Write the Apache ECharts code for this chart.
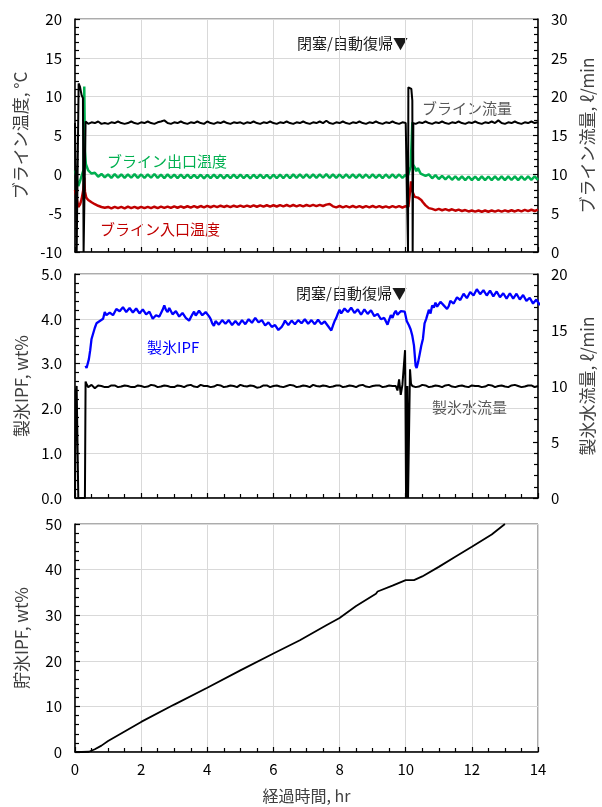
<!DOCTYPE html>
<html><head><meta charset="utf-8">
<script src="https://cdn.jsdelivr.net/npm/echarts@6/dist/echarts.min.js"></script>
<style>html,body{margin:0;padding:0;background:#fff}#c{width:602px;height:807px}</style>
</head><body><div id="c"></div>
<script>
// ---- Data (time in hr) ----
const xTicks = [0, 2, 4, 6, 8, 10, 12, 14];

// Panel 1: brine flow (right axis, ℓ/min)
const brineFlow = [[0,16.6],[0.04,16.5],[0.05,0],[0.09,0],[0.11,21.7],[0.15,21.3],[0.2,20.2],[0.24,19.8],[0.26,0],[0.3,0],[0.32,16.8],[0.4,16.5],[0.5,16.7],[0.6,16.6],[0.7,16.8],[0.8,16.5],[0.9,16.6],[1.0,16.5],[1.1,16.7],[1.2,16.6],[1.3,16.8],[1.4,16.6],[1.5,16.5],[1.6,16.6],[1.7,16.8],[1.8,16.6],[1.9,16.5],[2.0,16.7],[2.1,16.6],[2.2,16.8],[2.3,16.6],[2.4,16.5],[2.5,16.7],[2.6,16.8],[2.7,16.95],[2.8,16.6],[2.9,16.5],[3.0,16.7],[3.1,16.6],[3.2,16.8],[3.3,16.6],[3.4,16.5],[3.5,16.7],[3.6,16.6],[3.7,16.8],[3.8,16.6],[3.9,16.5],[4.0,16.8],[4.1,16.6],[4.2,16.5],[4.3,16.7],[4.4,16.6],[4.5,16.8],[4.6,16.6],[4.7,16.5],[4.8,16.7],[4.9,16.6],[5.0,16.7],[5.1,16.5],[5.2,16.7],[5.3,16.6],[5.4,16.8],[5.5,16.6],[5.6,16.5],[5.7,16.7],[5.8,16.6],[5.9,16.8],[6.0,16.6],[6.1,16.5],[6.2,16.7],[6.3,16.6],[6.4,16.8],[6.5,16.6],[6.6,16.5],[6.7,16.7],[6.8,16.6],[6.9,16.8],[7.0,16.6],[7.1,16.5],[7.2,16.7],[7.3,16.6],[7.4,16.8],[7.5,16.6],[7.6,16.9],[7.7,16.6],[7.8,16.5],[7.9,16.7],[8.0,16.6],[8.1,16.8],[8.2,16.6],[8.3,16.5],[8.4,16.7],[8.5,16.6],[8.6,16.8],[8.7,16.6],[8.8,16.5],[8.9,16.7],[9.0,16.6],[9.1,16.8],[9.2,16.6],[9.3,16.5],[9.4,16.7],[9.5,16.6],[9.6,16.8],[9.7,16.6],[9.8,16.5],[9.9,16.7],[10.0,16.6],[10.06,16.6],[10.07,0],[10.075,0],[10.08,21.2],[10.12,21.3],[10.17,21.0],[10.2,19.5],[10.21,0],[10.22,0],[10.23,16.6],[10.3,16.5],[10.4,16.7],[10.5,16.6],[10.6,16.8],[10.7,16.6],[10.8,16.5],[10.9,16.7],[11.0,16.6],[11.1,16.8],[11.2,16.6],[11.3,16.5],[11.4,16.7],[11.5,16.6],[11.6,16.8],[11.7,16.6],[11.8,16.5],[11.9,16.7],[12.0,16.6],[12.1,16.8],[12.2,16.6],[12.3,16.5],[12.4,16.7],[12.5,16.6],[12.6,16.8],[12.7,16.6],[12.8,16.95],[12.9,16.6],[13.0,16.5],[13.1,16.7],[13.2,16.6],[13.3,16.8],[13.4,16.6],[13.5,16.5],[13.6,16.7],[13.7,16.6],[13.8,16.8],[13.9,16.6],[14.0,16.7]];

// Panel 1: brine outlet temperature (°C)
const brineOut = [[0,0.5],[0.05,-0.4],[0.1,-1.5],[0.15,-0.9],[0.2,-0.2],[0.26,0.6],[0.28,11.3],[0.3,3.0],[0.33,1.3],[0.4,0.5],[0.5,0.1],[0.6,0.2],[0.7,-0.3],[0.8,0.05],[0.9,-0.4],[1.0,0.0],[1.1,-0.45],[1.2,0.02],[1.3,-0.42],[1.4,-0.02],[1.5,-0.46],[1.6,0.0],[1.7,-0.44],[1.8,0.03],[1.9,-0.45],[2.0,-0.02],[2.1,-0.47],[2.2,0.0],[2.3,-0.44],[2.4,0.05],[2.5,-0.45],[2.6,-0.03],[2.7,-0.48],[2.8,0.0],[2.9,-0.46],[3.0,-0.04],[3.1,-0.5],[3.2,-0.05],[3.3,-0.48],[3.4,-0.04],[3.5,-0.5],[3.6,-0.06],[3.7,-0.5],[3.8,-0.05],[3.9,-0.52],[4.0,-0.06],[4.1,-0.5],[4.2,-0.04],[4.3,-0.5],[4.4,-0.05],[4.5,-0.52],[4.6,-0.06],[4.7,-0.5],[4.8,-0.05],[4.9,-0.5],[5.0,-0.04],[5.1,-0.5],[5.2,-0.06],[5.3,-0.52],[5.4,-0.05],[5.5,-0.5],[5.6,-0.04],[5.7,-0.5],[5.8,-0.06],[5.9,-0.52],[6.0,-0.05],[6.1,-0.5],[6.2,-0.03],[6.3,-0.48],[6.4,-0.02],[6.5,-0.48],[6.6,0.0],[6.7,-0.46],[6.8,-0.02],[6.9,-0.45],[7.0,0.0],[7.1,-0.45],[7.2,-0.02],[7.3,-0.46],[7.4,0.0],[7.5,-0.44],[7.6,0.02],[7.7,-0.45],[7.8,0.0],[7.9,-0.46],[8.0,-0.02],[8.1,-0.47],[8.2,0.0],[8.3,-0.45],[8.4,-0.02],[8.5,-0.46],[8.6,0.0],[8.7,-0.45],[8.8,-0.02],[8.9,-0.47],[9.0,0.0],[9.1,-0.45],[9.2,-0.03],[9.3,-0.48],[9.4,-0.02],[9.5,-0.46],[9.6,0.0],[9.7,-0.45],[9.8,-0.02],[9.9,-0.47],[10.0,-0.05],[10.05,-0.4],[10.1,0.3],[10.15,1.0],[10.19,0.8],[10.2,6.7],[10.22,1.3],[10.27,0.9],[10.32,0.4],[10.37,0.8],[10.45,0.1],[10.5,0.3],[10.6,-0.2],[10.7,0.0],[10.8,-0.5],[10.9,-0.1],[11.0,-0.6],[11.1,-0.2],[11.2,-0.65],[11.3,-0.22],[11.4,-0.7],[11.5,-0.25],[11.6,-0.72],[11.7,-0.26],[11.8,-0.74],[11.9,-0.28],[12.0,-0.75],[12.1,-0.28],[12.2,-0.74],[12.3,-0.27],[12.4,-0.75],[12.5,-0.28],[12.6,-0.74],[12.7,-0.27],[12.8,-0.73],[12.9,-0.26],[13.0,-0.74],[13.1,-0.27],[13.2,-0.73],[13.3,-0.26],[13.4,-0.74],[13.5,-0.27],[13.6,-0.73],[13.7,-0.26],[13.8,-0.72],[13.9,-0.25],[14.0,-0.7]];

// Panel 1: brine inlet temperature (°C)
const brineIn = [[0,-2.0],[0.05,-3.0],[0.1,-4.2],[0.15,-3.9],[0.2,-3.2],[0.25,-2.0],[0.28,-0.4],[0.3,-2.2],[0.34,-3.0],[0.4,-3.3],[0.5,-3.6],[0.6,-3.85],[0.7,-4.05],[0.8,-4.2],[0.9,-4.3],[1.0,-4.2],[1.1,-4.38],[1.2,-4.18],[1.3,-4.36],[1.4,-4.2],[1.5,-4.38],[1.6,-4.17],[1.7,-4.36],[1.8,-4.2],[1.9,-4.37],[2.0,-4.19],[2.1,-4.36],[2.2,-4.18],[2.3,-4.35],[2.4,-4.17],[2.5,-4.34],[2.6,-4.16],[2.7,-4.33],[2.8,-4.15],[2.9,-4.33],[3.0,-4.13],[3.1,-4.3],[3.2,-4.12],[3.3,-4.3],[3.4,-4.11],[3.5,-4.28],[3.6,-4.1],[3.7,-4.27],[3.8,-4.08],[3.9,-4.25],[4.0,-4.06],[4.1,-4.24],[4.2,-4.06],[4.3,-4.22],[4.4,-4.04],[4.5,-4.2],[4.6,-4.05],[4.7,-4.22],[4.8,-4.04],[4.9,-4.2],[5.0,-4.02],[5.1,-4.2],[5.2,-4.03],[5.3,-4.18],[5.4,-4.0],[5.5,-4.17],[5.6,-4.0],[5.7,-4.16],[5.8,-3.98],[5.9,-4.15],[6.0,-3.98],[6.1,-4.14],[6.2,-3.96],[6.3,-4.12],[6.4,-3.95],[6.5,-4.12],[6.6,-3.95],[6.7,-4.12],[6.8,-3.96],[6.9,-4.12],[7.0,-3.95],[7.1,-4.1],[7.2,-3.94],[7.3,-4.1],[7.4,-3.94],[7.5,-4.08],[7.6,-3.9],[7.7,-3.82],[7.8,-4.12],[7.9,-4.25],[8.0,-4.08],[8.1,-4.26],[8.2,-4.1],[8.3,-4.25],[8.4,-4.08],[8.5,-4.26],[8.6,-4.1],[8.7,-4.27],[8.8,-4.1],[8.9,-4.26],[9.0,-4.08],[9.1,-4.25],[9.2,-4.1],[9.3,-4.27],[9.4,-4.12],[9.5,-4.28],[9.6,-4.1],[9.7,-4.26],[9.8,-4.1],[9.9,-4.27],[10.0,-4.1],[10.08,-4.2],[10.12,-2.6],[10.16,-0.9],[10.18,-1.8],[10.22,-2.4],[10.27,-2.9],[10.32,-2.7],[10.37,-3.0],[10.42,-2.9],[10.47,-3.3],[10.52,-3.6],[10.6,-4.0],[10.7,-4.35],[10.8,-4.45],[10.9,-4.6],[11.0,-4.45],[11.1,-4.62],[11.2,-4.48],[11.3,-4.65],[11.4,-4.5],[11.5,-4.68],[11.6,-4.55],[11.7,-4.72],[11.8,-4.6],[11.9,-4.78],[12.0,-4.65],[12.1,-4.8],[12.2,-4.66],[12.3,-4.82],[12.4,-4.66],[12.5,-4.82],[12.6,-4.65],[12.7,-4.8],[12.8,-4.64],[12.9,-4.8],[13.0,-4.64],[13.1,-4.78],[13.2,-4.62],[13.3,-4.78],[13.4,-4.6],[13.5,-4.76],[13.6,-4.58],[13.7,-4.74],[13.8,-4.56],[13.9,-4.72],[14.0,-4.55]];

// Panel 2: ice-making IPF (wt%)
const iceIPF = [[0.32,2.95],[0.35,2.9],[0.38,2.86],[0.42,3.1],[0.46,3.3],[0.5,3.55],[0.55,3.56],[0.6,3.8],[0.65,3.9],[0.7,3.88],[0.75,3.95],[0.8,3.93],[0.85,4.0],[0.9,4.15],[0.95,4.08],[1.0,4.05],[1.05,4.14],[1.1,4.17],[1.15,4.08],[1.2,4.1],[1.25,4.22],[1.3,4.26],[1.35,4.17],[1.4,4.15],[1.45,4.26],[1.5,4.25],[1.55,4.15],[1.6,4.13],[1.65,4.24],[1.7,4.24],[1.75,4.14],[1.8,4.12],[1.85,4.23],[1.9,4.22],[1.95,4.12],[2.0,4.1],[2.05,4.21],[2.1,4.2],[2.15,4.1],[2.2,4.08],[2.25,4.16],[2.3,4.12],[2.35,4.0],[2.4,3.96],[2.45,4.08],[2.5,4.12],[2.55,4.05],[2.6,4.08],[2.65,4.2],[2.7,4.3],[2.75,4.2],[2.8,4.15],[2.85,4.24],[2.9,4.22],[2.95,4.1],[3.0,4.08],[3.05,4.17],[3.1,4.15],[3.15,4.05],[3.2,4.03],[3.25,4.13],[3.3,4.12],[3.35,4.02],[3.4,4.0],[3.45,3.96],[3.5,3.98],[3.55,4.1],[3.6,4.16],[3.65,4.07],[3.7,4.08],[3.75,4.18],[3.8,4.18],[3.85,4.08],[3.9,4.06],[3.95,4.15],[4.0,4.14],[4.05,4.06],[4.1,4.0],[4.15,3.9],[4.2,3.84],[4.25,3.95],[4.3,3.96],[4.35,3.87],[4.4,3.86],[4.45,3.97],[4.5,3.98],[4.55,3.89],[4.6,3.88],[4.65,3.97],[4.7,3.96],[4.75,3.86],[4.8,3.86],[4.85,3.95],[4.9,3.95],[4.95,3.86],[5.0,3.87],[5.05,3.97],[5.1,3.98],[5.15,3.88],[5.2,3.88],[5.25,3.99],[5.3,4.0],[5.35,3.91],[5.4,3.92],[5.45,4.02],[5.5,4.03],[5.55,3.92],[5.6,3.9],[5.65,3.97],[5.7,3.96],[5.75,3.85],[5.8,3.83],[5.85,3.92],[5.9,3.92],[5.95,3.82],[6.0,3.8],[6.05,3.86],[6.1,3.85],[6.15,3.75],[6.2,3.72],[6.25,3.82],[6.3,3.88],[6.35,3.96],[6.4,3.95],[6.45,3.86],[6.5,3.86],[6.55,3.96],[6.6,3.97],[6.65,3.88],[6.7,3.87],[6.75,3.97],[6.8,3.98],[6.85,3.9],[6.9,3.9],[6.95,3.99],[7.0,3.99],[7.05,3.89],[7.1,3.88],[7.15,3.97],[7.2,3.97],[7.25,3.88],[7.3,3.88],[7.35,3.98],[7.4,3.98],[7.45,3.88],[7.5,3.87],[7.55,3.94],[7.6,3.93],[7.65,3.84],[7.7,3.82],[7.75,3.74],[7.8,3.85],[7.85,3.95],[7.9,4.02],[7.95,4.12],[8.0,4.2],[8.05,4.12],[8.1,4.12],[8.15,4.23],[8.2,4.24],[8.25,4.15],[8.3,4.14],[8.35,4.25],[8.4,4.25],[8.45,4.13],[8.5,4.12],[8.55,4.21],[8.6,4.2],[8.65,4.09],[8.7,4.08],[8.75,4.21],[8.8,4.22],[8.85,4.11],[8.9,4.1],[8.95,4.19],[9.0,4.18],[9.05,4.06],[9.1,4.05],[9.15,4.11],[9.2,4.1],[9.25,3.99],[9.3,3.98],[9.35,4.02],[9.4,4.0],[9.45,3.87],[9.5,3.98],[9.55,4.08],[9.6,4.02],[9.65,4.12],[9.7,4.18],[9.75,4.09],[9.8,4.08],[9.85,4.17],[9.9,4.18],[9.97,4.16],[10.03,3.95],[10.1,3.85],[10.15,3.76],[10.2,3.62],[10.25,3.4],[10.3,2.95],[10.33,2.9],[10.38,3.05],[10.42,3.2],[10.47,3.4],[10.52,3.55],[10.57,3.9],[10.62,4.0],[10.66,4.1],[10.7,4.2],[10.75,4.12],[10.8,4.3],[10.85,4.25],[10.9,4.36],[10.95,4.27],[11.0,4.28],[11.05,4.38],[11.1,4.4],[11.15,4.3],[11.2,4.3],[11.25,4.22],[11.3,4.28],[11.35,4.4],[11.4,4.42],[11.45,4.34],[11.5,4.36],[11.55,4.48],[11.6,4.5],[11.65,4.42],[11.7,4.44],[11.75,4.56],[11.8,4.55],[11.85,4.46],[11.9,4.48],[11.95,4.6],[12.0,4.62],[12.05,4.52],[12.1,4.54],[12.15,4.66],[12.2,4.66],[12.25,4.55],[12.3,4.55],[12.35,4.64],[12.4,4.63],[12.45,4.52],[12.5,4.52],[12.55,4.63],[12.6,4.62],[12.65,4.5],[12.7,4.5],[12.75,4.61],[12.8,4.6],[12.85,4.48],[12.9,4.48],[12.95,4.57],[13.0,4.56],[13.05,4.45],[13.1,4.46],[13.15,4.57],[13.2,4.56],[13.25,4.45],[13.3,4.46],[13.35,4.56],[13.4,4.55],[13.45,4.43],[13.5,4.43],[13.55,4.53],[13.6,4.52],[13.65,4.4],[13.7,4.4],[13.75,4.47],[13.8,4.46],[13.85,4.34],[13.9,4.34],[13.95,4.43],[14.0,4.42],[14.05,4.31],[14.1,4.32],[14.15,4.43],[14.2,4.42],[14.25,4.31],[14.3,4.32],[14.35,4.45],[14.4,4.44],[14.45,4.35],[14.5,4.36],[14.55,4.48],[14.6,4.48],[14.65,4.4],[14.7,4.42],[14.75,4.46]];

// Panel 2: ice-making water flow (right axis, ℓ/min)
const iceWaterFlow = [[0,0],[0.02,0],[0.025,9.6],[0.05,10.0],[0.09,10.0],[0.1,0],[0.3,0],[0.32,10.4],[0.36,10.1],[0.4,9.9],[0.5,10.1],[0.6,9.8],[0.7,10.05],[0.8,10.0],[0.9,9.9],[1.0,9.9],[1.1,10.05],[1.2,10.05],[1.3,9.9],[1.4,9.95],[1.5,10.05],[1.6,10.0],[1.7,9.9],[1.8,9.9],[1.9,10.05],[2.0,10.0],[2.1,9.9],[2.2,9.95],[2.3,10.1],[2.4,10.05],[2.5,9.9],[2.6,9.95],[2.7,10.05],[2.8,10.0],[2.9,9.9],[3.0,9.9],[3.1,10.05],[3.2,10.0],[3.3,9.9],[3.4,10.05],[3.5,10.1],[3.6,9.95],[3.7,9.9],[3.8,10.1],[3.9,10.0],[4.0,10.0],[4.1,9.9],[4.2,9.95],[4.3,10.1],[4.4,10.05],[4.5,9.9],[4.6,9.95],[4.7,10.05],[4.8,10.0],[4.9,9.9],[5.0,10.1],[5.1,10.0],[5.2,9.95],[5.3,10.05],[5.4,10.0],[5.5,9.85],[5.6,9.9],[5.7,10.05],[5.8,10.05],[5.9,9.9],[6.0,10.0],[6.1,10.05],[6.2,9.95],[6.3,9.9],[6.4,10.0],[6.5,10.1],[6.6,10.05],[6.7,9.9],[6.8,9.95],[6.9,10.05],[7.0,10.0],[7.1,9.9],[7.2,10.1],[7.3,10.0],[7.4,9.95],[7.5,10.05],[7.6,10.0],[7.7,9.9],[7.8,9.95],[7.9,10.05],[8.0,10.05],[8.1,9.9],[8.2,9.95],[8.3,10.05],[8.4,10.0],[8.5,9.9],[8.6,10.05],[8.7,10.1],[8.8,9.95],[8.9,9.9],[9.0,10.0],[9.1,10.05],[9.2,10.05],[9.3,9.9],[9.4,9.95],[9.5,10.05],[9.6,10.0],[9.7,10.0],[9.75,9.6],[9.8,10.6],[9.85,9.2],[9.9,10.1],[9.96,10.0],[9.98,13.2],[9.99,10.0],[10.01,0],[10.04,0],[10.05,10.0],[10.07,0],[10.12,0],[10.13,11.5],[10.16,10.2],[10.2,10.0],[10.3,9.9],[10.4,9.95],[10.5,10.1],[10.6,10.05],[10.7,9.9],[10.8,9.95],[10.9,10.05],[11.0,10.0],[11.1,9.9],[11.2,10.05],[11.3,10.1],[11.4,9.95],[11.5,9.9],[11.6,10.0],[11.7,10.05],[11.8,9.95],[11.9,9.9],[12.0,10.05],[12.1,10.0],[12.2,10.0],[12.3,9.9],[12.4,9.95],[12.5,10.1],[12.6,10.05],[12.7,9.9],[12.8,10.0],[12.9,10.05],[13.0,9.95],[13.1,9.9],[13.2,10.05],[13.3,10.1],[13.4,10.0],[13.5,9.9],[13.6,9.95],[13.7,10.05],[13.8,10.05],[13.9,9.9],[14.0,10.0]];

// Panel 3: stored ice IPF (wt%)
const storeIPF = [[0,0],[0.2,0],[0.42,0.05],[0.6,0.6],[0.8,1.4],[1.0,2.4],[1.5,4.5],[2.0,6.6],[3.0,10.4],[4.0,14.1],[5.0,17.9],[6.0,21.6],[6.8,24.5],[7.6,27.8],[8.0,29.4],[8.5,32.0],[9.1,34.7],[9.15,35.2],[9.2,35.0],[9.6,36.5],[10.0,37.7],[10.25,37.7],[10.5,38.5],[11.0,40.6],[11.5,42.8],[12.0,45.0],[12.6,47.7],[13.0,50.0]];

// ---- Styling ----
const FONT = '"Noto Sans CJK JP", "Noto Sans", sans-serif';
const TXT = '#000';
const TITLE = '#404040';

function xAxisCfg(gridIndex, showLabels) {
  return {
    type: 'value', gridIndex, min: 0, max: 14, interval: 2,
    axisLine: { show: true, onZero: false, lineStyle: { color: '#000', width: 1.5 } },
    axisTick: { show: true, inside: true, length: 5, lineStyle: { color: '#000', width: 1.2 } },
    minorTick: { show: true, splitNumber: 4, length: 4, lineStyle: { color: '#000', width: 1.2 } },
    axisLabel: { show: showLabels, fontSize: 15, color: TXT, fontFamily: FONT, margin: 10 },
    splitLine: { show: true, lineStyle: { color: '#d9d9d9', width: 1 } },
    minorSplitLine: { show: false }
  };
}
function yAxisCfg(gridIndex, pos, min, max, interval, name, nameGap, fmt, split) {
  return {
    type: 'value', gridIndex, position: pos, min, max, interval,
    name, nameLocation: 'middle', nameGap, nameRotate: 90,
    nameTextStyle: { fontSize: 17, color: TITLE, fontFamily: FONT },
    axisLine: { show: true, onZero: false, lineStyle: { color: '#000', width: 1.5 } },
    axisTick: { show: true, inside: true, length: 5, lineStyle: { color: '#000', width: 1.2 } },
    minorTick: { show: true, splitNumber: 5, length: 4, lineStyle: { color: '#000', width: 1.2 } },
    axisLabel: { fontSize: 15, color: TXT, fontFamily: FONT, margin: 13, formatter: fmt },
    splitLine: { show: split, lineStyle: { color: '#d9d9d9', width: 1 } }
  };
}
function line(data, xi, yi, color, width, z, clip) {
  return { type: 'line', data, xAxisIndex: xi, yAxisIndex: yi, showSymbol: false, symbol: 'none',
    lineStyle: { color, width }, itemStyle: { color }, z, clip: clip !== false, animation: false };
}
function label(text, x, y, color, align) {
  return { type: 'text', x, y, silent: true,
    style: { text, fill: color, font: '15px ' + FONT, textAlign: align, align: align,
             textVerticalAlign: 'middle', verticalAlign: 'middle' } };
}

const gridBase = { left: 75, width: 463, show: true, borderColor: '#595959', borderWidth: 1, backgroundColor: 'transparent', containLabel: false, outerBoundsMode: 'none' };

const option = {
  animation: false,
  backgroundColor: '#fff',
  grid: [
    Object.assign({ top: 19, height: 233 }, gridBase),
    Object.assign({ top: 274, height: 224 }, gridBase),
    Object.assign({ top: 524, height: 228 }, gridBase)
  ],
  xAxis: [
    xAxisCfg(0, false),
    xAxisCfg(1, false),
    Object.assign(xAxisCfg(2, true), { name: '経過時間, hr', nameLocation: 'middle', nameGap: 36,
      nameTextStyle: { fontSize: 16, color: TITLE, fontFamily: FONT } })
  ],
  yAxis: [
    yAxisCfg(0, 'left', -10, 20, 5, 'ブライン温度, °C', 42, v => v, true),
    yAxisCfg(0, 'right', 0, 30, 5, 'ブライン流量, ℓ/min', 41, v => v, false),
    yAxisCfg(1, 'left', 0, 5, 1, '製氷IPF, wt%', 45, v => v.toFixed(1), true),
    yAxisCfg(1, 'right', 0, 20, 5, '製氷水流量, ℓ/min', 41, v => v, false),
    yAxisCfg(2, 'left', 0, 50, 10, '貯氷IPF, wt%', 45, v => v, true)
  ],
  series: [
    line(brineOut, 0, 0, '#00b050', 2.5, 3),
    line(brineIn, 0, 0, '#c00000', 2.5, 3),
    line(brineFlow, 0, 1, '#000000', 2, 4),
    line(iceIPF, 1, 2, '#0000ff', 2.3, 3, false),
    line(iceWaterFlow, 1, 3, '#000000', 2, 4),
    line(storeIPF, 2, 4, '#000000', 1.8, 3)
  ],
  graphic: [
    label('閉塞/自動復帰▼', 408, 43, '#1a1a1a', 'right'),
    label('ブライン流量', 422, 108, '#595959', 'left'),
    label('ブライン出口温度', 107, 161, '#00b050', 'left'),
    label('ブライン入口温度', 100, 229, '#c00000', 'left'),
    label('閉塞/自動復帰▼', 407, 293, '#1a1a1a', 'right'),
    label('製氷IPF', 147, 347, '#0000ff', 'left'),
    label('製氷水流量', 432, 407, '#595959', 'left')
  ]
};

const chart = echarts.init(document.getElementById('c'), null, { renderer: 'canvas' });
chart.setOption(option);
</script>
</body></html>
